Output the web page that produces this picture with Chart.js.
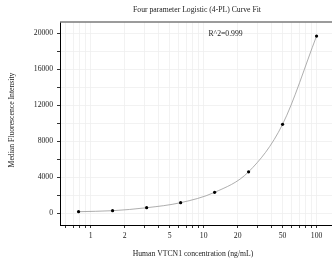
<!DOCTYPE html>
<html lang="en">
<head>
<meta charset="UTF-8">
<title>4-PL Curve Fit</title>
<script src="https://cdn.jsdelivr.net/npm/chart.js@4.4.2/dist/chart.umd.min.js"></script>
<style>
  body { margin: 0; padding: 0; background: #fff; }
  #wrap { width: 332px; height: 268px; }
</style>
</head>
<body>
<div id="wrap"><canvas id="fitChart" width="332" height="268"></canvas></div>
<script>
// standard concentrations (ng/mL) and measured MFI
const concentrations = [0.78, 1.56, 3.125, 6.25, 12.5, 25, 50, 100];
const mfiValues = [180, 290, 620, 1180, 2330, 4610, 9890, 19700];

// axis ticks
const xTicks = [0.6, 0.7, 0.8, 0.9, 1, 2, 3, 4, 5, 6, 7, 8, 9, 10, 20, 30, 40, 50, 60, 70, 80, 90, 100];
const xLabels = [1, 2, 5, 10, 20, 50, 100];
const yTicks = [0, 2000, 4000, 6000, 8000, 10000, 12000, 14000, 16000, 18000, 20000];
const yLabels = [0, 4000, 8000, 12000, 16000, 20000];

const chartTitle = 'Four parameter Logistic (4-PL) Curve Fit';
const xTitle = 'Human VTCN1 concentration (ng/mL)';
const yTitle = 'Median Fluorescence Intensity';
const fitNote = 'R^2=0.999';

const serif = "'Liberation Serif', 'DejaVu Serif', serif";
const points = concentrations.map((c, i) => ({ x: c, y: mfiValues[i] }));

// title, axis titles, R^2 and top frame line
const textPlugin = {
  id: 'texts',
  afterDraw(chart) {
    const ctx = chart.ctx;
    const a = chart.chartArea;
    ctx.save();
    ctx.strokeStyle = '#7a7a7a';
    ctx.lineWidth = 1.5;
    ctx.beginPath();
    ctx.moveTo(a.left, a.top);
    ctx.lineTo(a.right, a.top);
    ctx.stroke();

    ctx.fillStyle = '#222';
    ctx.textAlign = 'center';
    ctx.textBaseline = 'middle';
    ctx.font = '7.7px ' + serif;
    ctx.fillText(chartTitle, 197, 10);
    ctx.fillText(xTitle, 193, 254);
    ctx.fillText(fitNote, 225.5, 34);
    ctx.translate(12, 120);
    ctx.rotate(-Math.PI / 2);
    ctx.fillText(yTitle, 0, 0);
    ctx.restore();
  }
};

new Chart(document.getElementById('fitChart'), {
  type: 'scatter',
  data: {
    datasets: [{
      label: 'fit',
      data: points,
      showLine: true,
      cubicInterpolationMode: 'monotone',
      borderColor: '#999',
      borderWidth: 0.8,
      pointRadius: 1.6,
      pointHoverRadius: 1.6,
      pointBackgroundColor: '#000',
      pointBorderColor: '#000',
      pointBorderWidth: 0
    }]
  },
  options: {
    responsive: false,
    animation: false,
    layout: { autoPadding: false, padding: { top: 22, left: 0, right: 0, bottom: 0 } },
    plugins: {
      legend: { display: false },
      tooltip: { enabled: false },
      title: { display: false }
    },
    scales: {
      x: {
        type: 'logarithmic',
        min: 0.534,
        max: 137,
        afterBuildTicks: s => { s.ticks = xTicks.map(v => ({ value: v })); },
        afterFit: s => { s.height = 43; },
        grid: { color: '#efefef', lineWidth: 0.8, tickLength: 3, tickColor: '#000', tickWidth: 0.8 },
        border: { color: '#000', width: 1 },
        ticks: {
          autoSkip: false,
          maxRotation: 0,
          padding: 3,
          color: '#222',
          font: { family: serif, size: 7.7 },
          callback: v => xLabels.includes(v) ? String(v) : ''
        }
      },
      y: {
        min: -1300,
        max: 21260,
        afterBuildTicks: s => { s.ticks = yTicks.map(v => ({ value: v })); },
        afterFit: s => { s.width = 60; },
        grid: { color: '#efefef', lineWidth: 0.8, tickLength: 3, tickColor: '#000', tickWidth: 0.8 },
        border: { color: '#000', width: 1 },
        ticks: {
          padding: 4,
          color: '#222',
          font: { family: serif, size: 7.7 },
          callback: v => yLabels.includes(v) ? String(v) : ''
        }
      }
    }
  },
  plugins: [textPlugin]
});
</script>
</body>
</html>
